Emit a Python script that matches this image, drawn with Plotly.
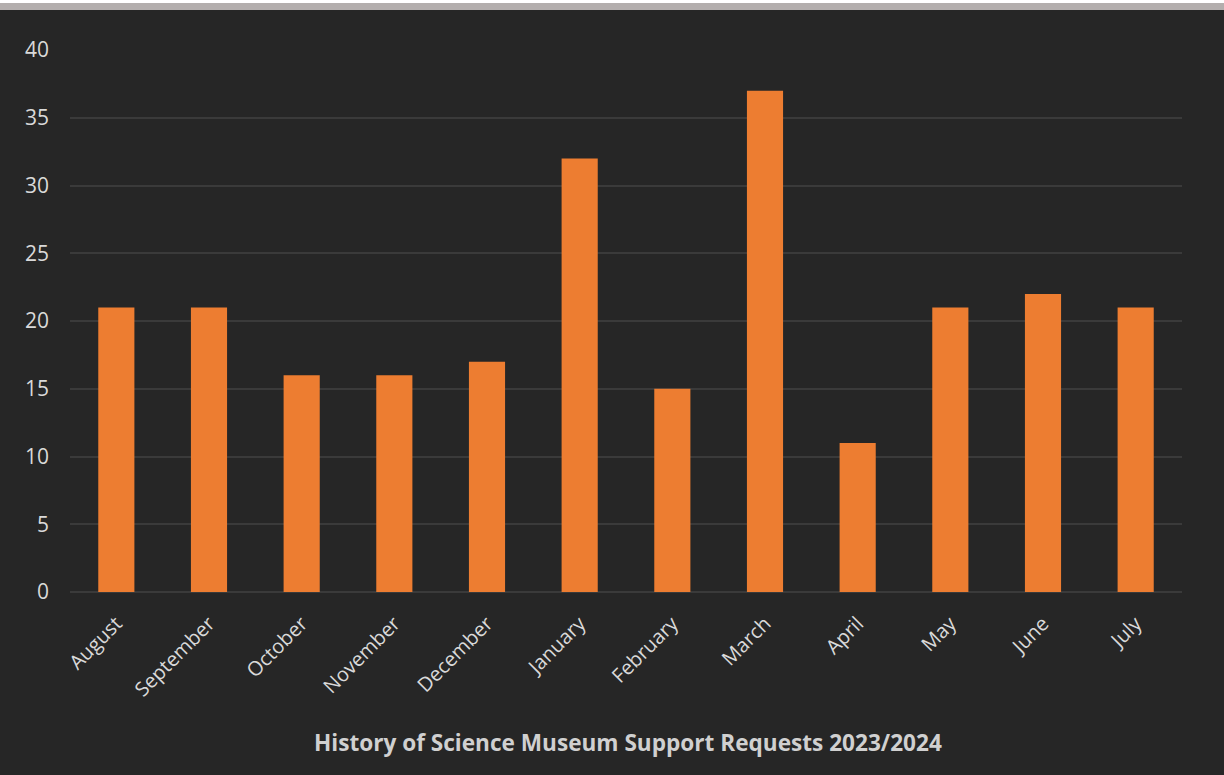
import plotly.graph_objects as go

months = ["August", "September", "October", "November", "December", "January",
          "February", "March", "April", "May", "June", "July"]
requests = [21, 21, 16, 16, 17, 32, 15, 37, 11, 21, 22, 21]
y_ticks = [0, 5, 10, 15, 20, 25, 30, 35, 40]
title_text = "History of Science Museum Support Requests 2023/2024"

W, H = 1224, 775
ml, mr, mt, mb = 70, 42, 50, 183
ph = H - mt - mb

def py(px):
    return (H - mb - px) / ph

fig = go.Figure()
fig.add_trace(go.Bar(x=months, y=requests, marker=dict(color="#ED7D31", line=dict(width=0))))

fig.update_layout(
    width=W, height=H,
    margin=dict(l=ml, r=mr, t=mt, b=mb),
    paper_bgcolor="#262626", plot_bgcolor="#262626",
    bargap=0.61,
    showlegend=False,
    font=dict(family="Open Sans, sans-serif", color="#d9d9d9"),
    xaxis=dict(tickangle=-45, tickfont=dict(size=20, color="#d9d9d9"),
               showgrid=False, showline=False, ticks="", zeroline=False,
               ticklabelstandoff=15),
    yaxis=dict(range=[0, 40], tickvals=y_ticks, tickfont=dict(size=21, color="#d9d9d9"),
               gridcolor="#3a3a3a", gridwidth=2, zeroline=True, zerolinecolor="#3a3a3a",
               zerolinewidth=2, ticks="", ticklabelstandoff=20, showline=False),
    shapes=[
        dict(type="rect", xref="paper", yref="paper", x0=-0.1, x1=1.1,
             y0=py(3), y1=py(-2), fillcolor="#ffffff", line=dict(width=0), layer="above"),
        dict(type="rect", xref="paper", yref="paper", x0=-0.1, x1=1.1,
             y0=py(10), y1=py(3), fillcolor="#b3aead", line=dict(width=0), layer="above"),
    ],
    annotations=[
        dict(text="<b>" + title_text + "</b>", xref="paper", yref="paper",
             x=(628 - ml) / (W - ml - mr), y=py(742), xanchor="center", yanchor="middle",
             showarrow=False, font=dict(size=22.6, color="#d0d0d0", family="Open Sans, sans-serif"))
    ],
)

fig.write_html("out.html", config={"displayModeBar": False},
               post_script="document.body.style.margin='0';")
